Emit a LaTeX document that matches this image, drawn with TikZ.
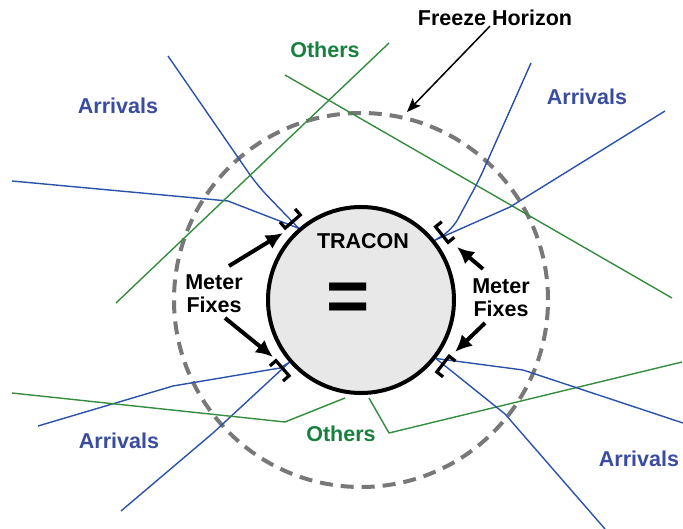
\documentclass[tikz,border=0pt]{standalone}
\usepackage{fontspec}
\setmainfont{Liberation Sans}
\usetikzlibrary{arrows.meta,calc}
\definecolor{arrblue}{RGB}{58,76,160}
\definecolor{lineblue}{RGB}{42,82,170}
\definecolor{othgreen}{RGB}{22,128,62}
\definecolor{linegreen}{RGB}{52,140,62}
\definecolor{fhgray}{RGB}{120,120,120}
\definecolor{tracfill}{RGB}{232,232,232}
\begin{document}
\begin{tikzpicture}[x=1pt,y=-1pt,
 lbl/.style={font=\fontsize{21.5}{23}\selectfont\bfseries, inner sep=0pt, align=center},
 arrlbl/.style={lbl, text=arrblue},
 othlbl/.style={lbl, text=othgreen},
 arrline/.style={draw=lineblue, line width=1.4pt, line join=round},
 othline/.style={draw=linegreen, line width=1.4pt, line join=round},
 fixarrow/.style={line width=4pt, -{Latex[length=17pt,width=16pt]}},
 fixmark/.style={line width=3.2pt, line join=miter},
]
\useasboundingbox (0,0) rectangle (683,529);
\coordinate (C) at (361,300);
% freeze horizon
\node[circle, draw=fhgray, line width=4pt, dash pattern=on 13pt off 8pt, minimum size=374pt, inner sep=0pt] (fh) at (C) {};
% fix points on the TRACON boundary
\coordinate (fixUL) at ($(C)+(-131:95)$);
\coordinate (fixUR) at ($(C)+(-39:95)$);
\coordinate (fixLL) at ($(C)+(139:95)$);
\coordinate (fixLR) at ($(C)+(38:95)$);
% routes
\draw[arrline, rounded corners=14pt] (168,56) -- (257,185) -- (fixUL);
\draw[arrline] (12,181) -- (228,201) -- (fixUL);
\draw[othline] (116,303) -- (389,43);
\draw[othline] (285,75) -- (672,298);
\draw[arrline, rounded corners=12pt] (531,63) -- (479,180) -- (452,230) -- (fixUR);
\draw[arrline] (665,111) -- (510,207) -- (fixUR);
\draw[arrline] (38,426) -- (173,386) -- (280,368) -- (fixLL);
\draw[arrline] (121,511) -- (213,433) -- (fixLL);
\draw[othline] (12,393) -- (285,422) -- (345,398);
\draw[othline] (369,398) -- (389,433) -- (682,362);
\draw[arrline] (fixLR) -- (523,370) -- (683,423);
\draw[arrline] (fixLR) -- (505,414) -- (605,529);
% TRACON
\node[circle, draw, line width=4pt, fill=tracfill, minimum size=186pt, inner sep=0pt] (tracon) at (C) {};
\node[lbl] (tracl) at (363,241) {TRACON};
\node[font=\fontsize{74}{74}\selectfont\bfseries, inner sep=0pt] (eq) at (348.5,302.5) {=};
% meter fix marks
\foreach \a in {-39,-131,139,38}
  \draw[fixmark] ($(C)+(\a:112)+(\a+90:10)$) -- ($(C)+(\a:104)+(\a+90:10)$) -- ($(C)+(\a:104)+(\a-90:10)$) -- ($(C)+(\a:112)+(\a-90:10)$);
% labels
\node[arrlbl] (arrUL) at (118,106) {Arrivals};
\node[arrlbl] (arrUR) at (587,97) {Arrivals};
\node[arrlbl] (arrLL) at (119,441) {Arrivals};
\node[arrlbl] (arrLR) at (639,459) {Arrivals};
\node[othlbl] (othT) at (325,50) {Others};
\node[othlbl] (othB) at (341,434) {Others};
\node[lbl] (fhl) at (495,18) {Freeze Horizon};
\node[lbl] (mfL) at (214,294) {Meter\\Fixes};
\node[lbl] (mfR) at (501,298) {Meter\\Fixes};
% freeze horizon pointer
\coordinate (fhtip) at (407,112);
\draw[line width=1.5pt, -{Stealth[length=14pt,width=11pt,inset=3pt]}] ([xshift=-5pt]fhl.south) -- (fhtip);
% meter fix arrows
\coordinate (mtUL) at (283,233); \coordinate (msUL) at (229,266);
\coordinate (mtLL) at (273,357); \coordinate (msLL) at (225,318);
\coordinate (mtUR) at (457,247); \coordinate (msUR) at (483,269);
\coordinate (mtLR) at (455,352); \coordinate (msLR) at (485,323);
\draw[fixarrow] (msUL) -- (mtUL);
\draw[fixarrow] (msLL) -- (mtLL);
\draw[fixarrow] (msUR) -- (mtUR);
\draw[fixarrow] (msLR) -- (mtLR);
\end{tikzpicture}
\end{document}
